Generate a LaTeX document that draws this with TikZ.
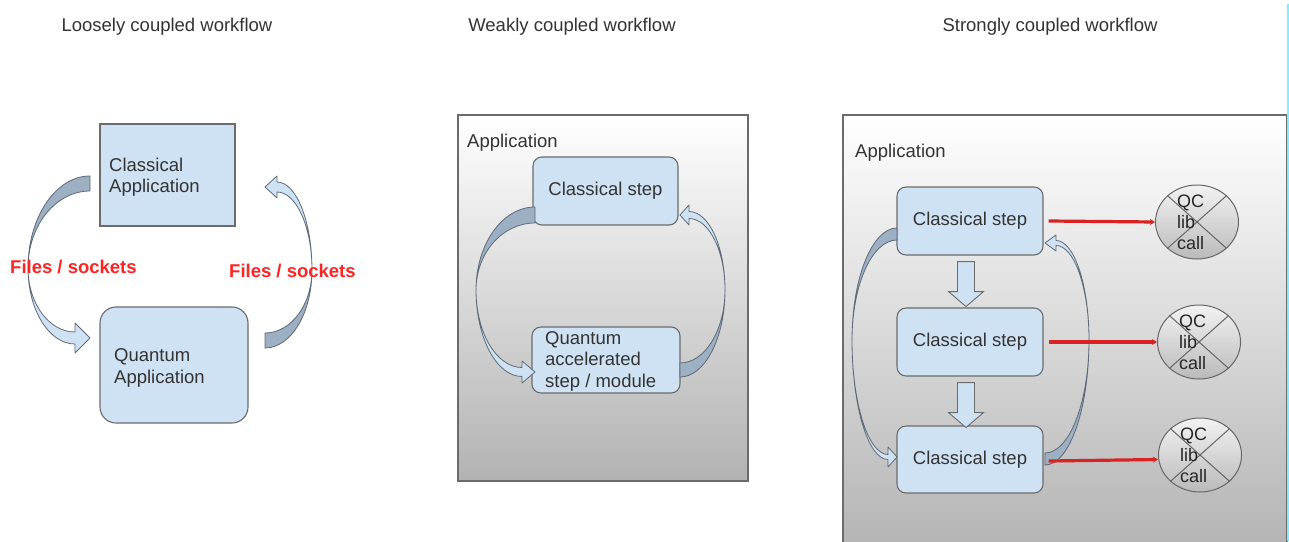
\documentclass[tikz,border=0pt]{standalone}
\usepackage{fontspec}
\setmainfont{Liberation Sans}
\usetikzlibrary{arrows.meta,shapes.geometric}
\definecolor{boxblue}{HTML}{CFE2F3}
\definecolor{boxline}{HTML}{6B6B6B}
\definecolor{arrdark}{HTML}{9DAFC3}
\definecolor{arrline}{HTML}{5E6A78}
\definecolor{txt}{HTML}{333333}
\definecolor{redlab}{HTML}{FF2424}
\definecolor{redln}{HTML}{D92222}
\definecolor{cyanln}{HTML}{7FEFFF}

% curved block arrow: #1 scope opts, #2 tail width, #3 bulge, #4 height to tip,
% #5 y of bulge, #6 head length, #7 head half width, #8 band width at head
\newcommand{\CArrow}[8]{%
\begin{scope}[#1]
\filldraw[fill=arrdark, draw=arrline, line width=0.8pt, line join=round]
 (0,0) .. controls ({-0.552*#3},0) and ({-#3},{0.448*#5}) .. ({-#3},{#5})
 .. controls ({-#3},{#5-0.552*(#5-#2)}) and ({-0.552*#3},{#2}) .. (0,{#2}) -- cycle;
\filldraw[fill=boxblue, draw=arrline, line width=0.8pt, line join=round]
 ({-#3},{#5}) .. controls ({-#3},{#5+0.552*(#4+0.5*#8-#5)}) and ({-#6-0.552*(#3-#6)},{#4+0.5*#8}) .. ({-#6},{#4+0.5*#8})
 -- ({-#6},{#4+#7}) -- (0,{#4}) -- ({-#6},{#4-#7}) -- ({-#6},{#4-0.5*#8})
 .. controls ({-#6-0.552*(#3-#6)},{#4-0.5*#8}) and ({-#3},{#5+0.552*(#4-0.5*#8-#5)}) .. ({-#3},{#5}) -- cycle;
\end{scope}}

\newcommand{\DownArr}[1]{%
\begin{scope}[shift={(#1)}]
\filldraw[fill=boxblue, draw=boxline, line width=0.9pt, line join=miter]
 (-12.5,6) -- (4.5,6) -- (4.5,36) -- (13.5,36) -- (-4,51) -- (-21.5,36) -- (-12.5,36) -- cycle;
\end{scope}}

\begin{document}
\begin{tikzpicture}[x=1pt,y=-1pt,
  every node/.style={font=\fontsize{18.5}{21.5}\selectfont, text=txt, inner sep=0pt},
  bluebox/.style={draw=boxline, fill=boxblue, line width=1.1pt},
  stepbox/.style={bluebox, rounded corners=9pt, minimum width=146pt, minimum height=68pt},
  appbox/.style={draw=boxline, line width=1.1pt, top color=white, bottom color=black!30},
  qcball/.style={ellipse, draw=black!60, line width=1pt, top color=black!5, bottom color=black!27, minimum width=83pt, minimum height=74pt},
  redline/.style={draw=redln, line width=3.2pt, -{Stealth[length=5pt,width=6pt]}},
  redlabel/.style={font=\fontsize{18.5}{21.5}\selectfont\bfseries, text=redlab},
  title/.style={font=\fontsize{18.5}{21.5}\selectfont}]
\useasboundingbox (0,0) rectangle (1289,541);
\clip (0,0) rectangle (1289,541);
\fill[white] (0,0) rectangle (1289,541);

% titles
\node[title] (t1) at (167,27) {Loosely coupled workflow};
\node[title] (t2) at (572,27) {Weakly coupled workflow};
\node[title] (t3) at (1050,27) {Strongly coupled workflow};

% ---------- panel 1 ----------
\node[bluebox, minimum width=135pt, minimum height=102pt] (ca) at (167.5,175) {};
\node[anchor=west, align=left] (catext) at (109,177) {Classical\\Application};
\node[bluebox, rounded corners=16pt, minimum width=148pt, minimum height=116pt] (qa) at (174,365) {};
\node[anchor=west, align=left] (qatext) at (114,368) {Quantum\\Application};

\coordinate (o1a) at (90,176);
\coordinate (o1b) at (265,348);
\CArrow{shift={(o1a)}}{15}{62}{162}{92}{15}{15}{12}
\CArrow{shift={(o1b)}, rotate=180}{15}{47}{161}{78}{12}{11}{10}

\node[redlabel, anchor=west] (fs1) at (10,267) {Files / sockets};
\node[redlabel, anchor=west] (fs2) at (229,271) {Files / sockets};

% ---------- panel 2 ----------
\node[appbox, minimum width=290pt, minimum height=366pt] (app2) at (603,298) {};
\node[anchor=west] (app2t) at (467,143) {Application};
\node[stepbox, minimum width=145pt] (cs2) at (605.5,191) {Classical step};
\node[bluebox, rounded corners=9pt, minimum width=148pt, minimum height=66pt] (qs2) at (606,360) {};
\node[anchor=west, align=left] (qs2t) at (545,361) {Quantum\\accelerated\\step / module};

\coordinate (o2a) at (535,207);
\coordinate (o2b) at (680,377);
\CArrow{shift={(o2a)}}{16}{59}{165}{83}{13}{11}{9}
\CArrow{shift={(o2b)}, rotate=180}{14}{45}{162}{87}{9}{10}{7}

% ---------- panel 3 ----------
\node[appbox, minimum width=444pt, minimum height=485pt, bottom color=black!33] (app3) at (1065,357.5) {};
\node[anchor=west] (app3t) at (855,153) {Application};
\node[stepbox] (s1) at (970,221) {Classical step};
\node[stepbox] (s2) at (970,342) {Classical step};
\node[stepbox, minimum height=67pt] (s3) at (970,459.5) {Classical step};

\DownArr{s1.south}
\DownArr{s2.south}

\coordinate (o3a) at (897,228);
\coordinate (o3b) at (1045,465);
\CArrow{shift={(o3a)}}{12}{45}{229}{112}{9}{10}{5}
\CArrow{shift={(o3b)}, rotate=180}{12}{44}{222}{125}{11}{8}{5}

\node[qcball] (q1) at (1197,222) {};
\node[qcball] (q2) at (1199,342) {};
\node[qcball] (q3) at (1200,455) {};
\foreach \q in {q1,q2,q3}{
  \draw[black!60, line width=1pt] (\q.north west) -- (\q.south east);
  \draw[black!60, line width=1pt] (\q.north east) -- (\q.south west);
}
\node[anchor=west, align=left, font=\fontsize{18}{21}\selectfont, text=black!85] (q1t) at ([xshift=-20pt]q1.center) {QC\\lib\\call};
\node[anchor=west, align=left, font=\fontsize{18}{21}\selectfont, text=black!85] (q2t) at ([xshift=-20pt]q2.center) {QC\\lib\\call};
\node[anchor=west, align=left, font=\fontsize{18}{21}\selectfont, text=black!85] (q3t) at ([xshift=-20pt]q3.center) {QC\\lib\\call};

\draw[redline] ([xshift=5pt]s1.east) -- (q1.west);
\draw[redline] ([xshift=5pt]s2.east) -- (q2.west);
\draw[redline] ([xshift=5pt,yshift=-1.5pt]s3.east) -- (s3.east -| q3.west);

% right edge line
\draw[cyanln, line width=1.6pt] (1288.2,4) -- (1288.2,541);
\end{tikzpicture}
\end{document}
